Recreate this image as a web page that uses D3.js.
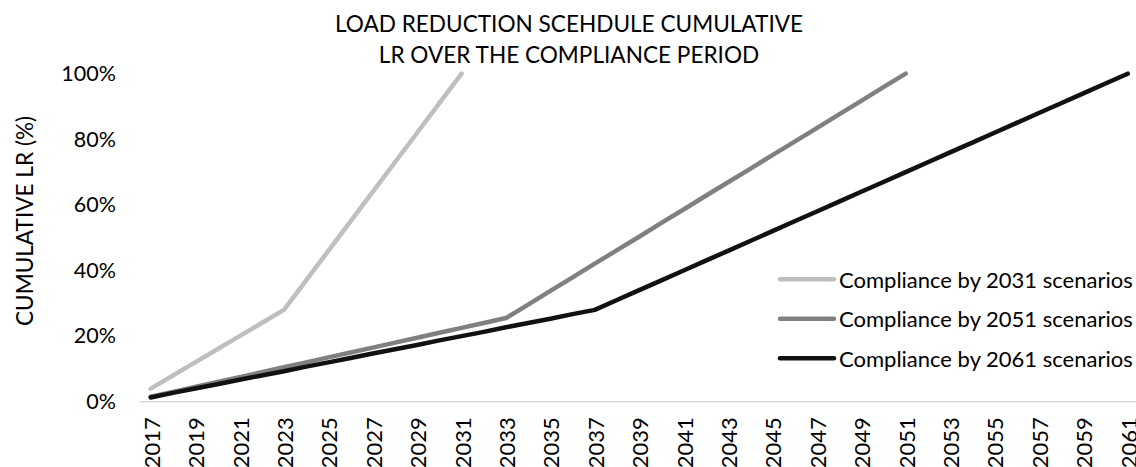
<!DOCTYPE html>
<html>
<head>
<meta charset="utf-8">
<script src="https://cdn.jsdelivr.net/npm/d3@7/dist/d3.min.js"></script>
<style>
  html, body { margin: 0; padding: 0; background: #fff; }
  svg { display: block; font-family: Lato, "Open Sans", sans-serif; }
</style>
</head>
<body>
<svg id="chart" width="1136" height="467"></svg>
<script>
// Years on the category axis
const years = d3.range(2017, 2062);
const yearLabels = years.filter((y, i) => i % 2 === 0);
const percentTicks = [0, 20, 40, 60, 80, 100];

// Cumulative load reduction (%) per scenario, starting in 2017
const comply2031 = [4, 8, 12, 16, 20, 24, 28, 37, 46, 55, 64, 73, 82, 91, 100];
const comply2051 = [1.5, 3, 4.5, 6, 7.5, 9, 10.5, 12, 13.5, 15, 16.5, 18, 19.5, 21, 22.5, 24, 25.5,
  29.6, 33.8, 37.9, 42.1, 46.2, 50.3, 54.5, 58.6, 62.8, 66.9, 71.0, 75.2, 79.3, 83.4, 87.6, 91.7, 95.9, 100];
const comply2061 = [1.3, 2.7, 4.0, 5.3, 6.7, 8.0, 9.3, 10.7, 12.0, 13.3, 14.7, 16.0, 17.3, 18.7, 20.0, 21.3, 22.7, 24.0, 25.3, 26.7, 28.0,
  31, 34, 37, 40, 43, 46, 49, 52, 55, 58, 61, 64, 67, 70, 73, 76, 79, 82, 85, 88, 91, 94, 97, 100];

const seriesNames = ["Compliance by 2031 scenarios", "Compliance by 2051 scenarios", "Compliance by 2061 scenarios"];
const seriesValues = [comply2031, comply2051, comply2061];
const seriesColors = ["#bfbfbf", "#808080", "#111111"];

const svg = d3.select("#chart");
const titleSize = 22.6;
const labelSize = 22;

const x = d3.scalePoint().domain(years).range([150.7, 1127.7]);
const y = d3.scaleLinear().domain([0, 100]).range([401.7, 73.7]);

// Title
const title = svg.append("text")
  .attr("text-anchor", "middle")
  .attr("font-size", titleSize)
  .attr("fill", "#000");
title.append("tspan").attr("x", 569).attr("y", 32).text("LOAD REDUCTION SCEHDULE CUMULATIVE");
title.append("tspan").attr("x", 569).attr("y", 63).text("LR OVER THE COMPLIANCE PERIOD");

// Y axis title
svg.append("text")
  .attr("transform", "translate(33,221) rotate(-90)")
  .attr("text-anchor", "middle")
  .attr("font-size", titleSize)
  .attr("fill", "#000")
  .text("CUMULATIVE LR (%)");

// Category axis baseline
const step = x.step();
svg.append("line")
  .attr("x1", x(years[0]) - step / 2)
  .attr("x2", x(years[years.length - 1]) + step / 2)
  .attr("y1", y(0)).attr("y2", y(0))
  .attr("stroke", "#d9d9d9")
  .attr("stroke-width", 1.5);

// Y axis labels
const yAxis = svg.append("g")
  .attr("transform", "translate(139,0)")
  .call(d3.axisLeft(y).tickValues(percentTicks).tickFormat(d => d + "%").tickSize(0).tickPadding(23));
yAxis.select(".domain").remove();
yAxis.selectAll("text").attr("font-size", 21.5).attr("font-family", "Lato, sans-serif").attr("fill", "#000");

// X axis labels, rotated
const xAxis = svg.append("g")
  .attr("transform", `translate(0,${y(0)})`)
  .call(d3.axisBottom(x).tickValues(yearLabels).tickSize(0).tickPadding(0));
xAxis.select(".domain").remove();
xAxis.selectAll("text")
  .attr("font-size", labelSize)
  .attr("font-family", "Lato, sans-serif")
  .attr("fill", "#000")
  .attr("text-anchor", "end")
  .attr("dy", null)
  .attr("y", 0)
  .attr("transform", "translate(0,15.5) rotate(-90)")
  .attr("dominant-baseline", "central");

// Series lines
const line = d3.line()
  .x((d, i) => x(years[i]))
  .y(d => y(d));

svg.append("g").selectAll("path")
  .data(seriesValues)
  .join("path")
  .attr("d", d => line(d))
  .attr("fill", "none")
  .attr("stroke", (d, i) => seriesColors[i])
  .attr("stroke-width", 4.5)
  .attr("stroke-linecap", "round")
  .attr("stroke-linejoin", "round");

// Legend
const legend = svg.append("g");
const legendRows = [279.3, 318.7, 358.3];
seriesNames.forEach((name, i) => {
  const row = legend.append("g").attr("transform", `translate(0,${legendRows[i]})`);
  row.append("line")
    .attr("x1", 780).attr("x2", 834)
    .attr("stroke", seriesColors[i])
    .attr("stroke-width", 4.5)
    .attr("stroke-linecap", "round");
  row.append("text")
    .attr("x", 839)
    .attr("dominant-baseline", "central")
    .attr("font-size", labelSize)
    .attr("fill", "#000")
    .text(name);
});
</script>
</body>
</html>
